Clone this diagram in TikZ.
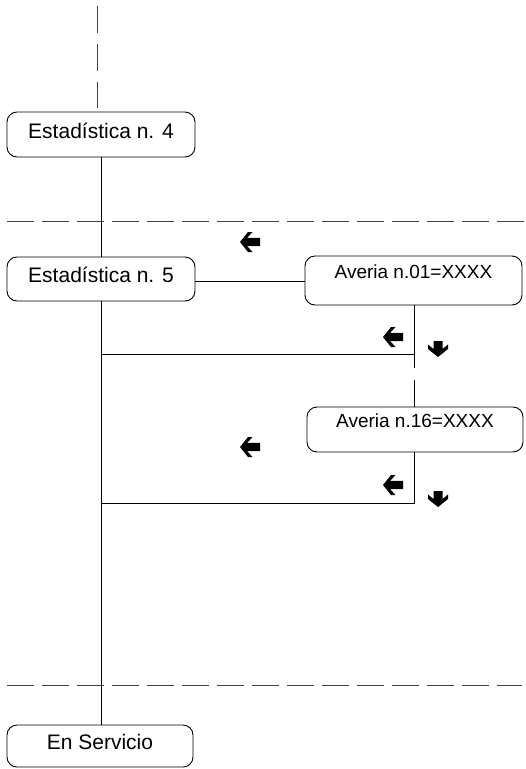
\documentclass[tikz,border=0pt]{standalone}
\usepackage{fontspec}
\setmainfont{Liberation Sans}
\begin{document}
\begin{tikzpicture}[x=1pt,y=-1pt,
  box/.style={draw, line width=0.9pt, rounded corners=10pt, inner sep=0pt},
  estbox/.style={box, font=\fontsize{21}{25}\selectfont, text height=15pt, text depth=8pt},
  avbox/.style={box, font=\fontsize{19}{23}\selectfont, text height=13.5pt, text depth=17pt},
  conn/.style={line width=0.9pt},
  sepline/.style={line width=0.9pt, black!75, dash pattern=on 27pt off 8pt},
  larrow/.pic={\fill (0,0) -- (8,-10) -- (12.5,-10) -- (7.2,-4.2) -- (20,-4.2) -- (20,4.2) -- (7.2,4.2) -- (12.5,10) -- (8,10) -- cycle;},
  darrow/.pic={\fill (0,0) -- (10,-8) -- (10,-12.5) -- (4.5,-8) -- (4.5,-16) -- (-4.5,-16) -- (-4.5,-8) -- (-10,-12.5) -- (-10,-8) -- cycle;}
]
\useasboundingbox (0,0) rectangle (526,769);

% dashed separators
\draw[sepline, dash pattern=on 27pt off 11pt] (97,6) -- (97,108);
\draw[sepline] (7,221) -- (526,221);
\draw[sepline] (7,685) -- (522,685);

% boxes
\node[estbox, minimum width=188pt, minimum height=45pt] (b4) at (101,134.5) {Estadística n. 4};
\node[estbox, minimum width=188pt, minimum height=44pt] (b5) at (101,279) {Estadística n. 5};
\node[avbox, minimum width=217pt, minimum height=49pt] (a1) at (413.5,280.5) {Averia n.01=XXXX};
\node[avbox, minimum width=216pt, minimum height=45pt] (a16) at (415,429.5) {Averia n.16=XXXX};
\node[estbox, minimum width=186pt, minimum height=42pt] (es) at (100,746) {En Servicio};

% helper coordinates
\coordinate (c1) at (414,368);
\coordinate (c2) at (414,380);
\coordinate (j1) at (414,354);
\coordinate (j2) at (414,503);

% connectors
\draw[conn] (b4.south -| 101,0) -- (b5.north -| 101,0);
\draw[conn] (b5.east |- 0,281) -- (a1.west |- 0,281);
\draw[conn] (a1.south -| c1) -- (c1);
\draw[conn] (c2) -- (a16.north -| c2);
\draw[conn] (j1) -- (j1 -| 101,0);
\draw[conn] (a16.south -| j2) -- (j2) -- (j2 -| 101,0);
\draw[conn] (b5.south -| 101,0) -- (es.north -| 101,0);

% arrows
\pic at (240,242) {larrow};
\pic at (383,337) {larrow};
\pic at (438,357) {darrow};
\pic at (240,447) {larrow};
\pic at (383,485) {larrow};
\pic at (438,507) {darrow};
\end{tikzpicture}
\end{document}
